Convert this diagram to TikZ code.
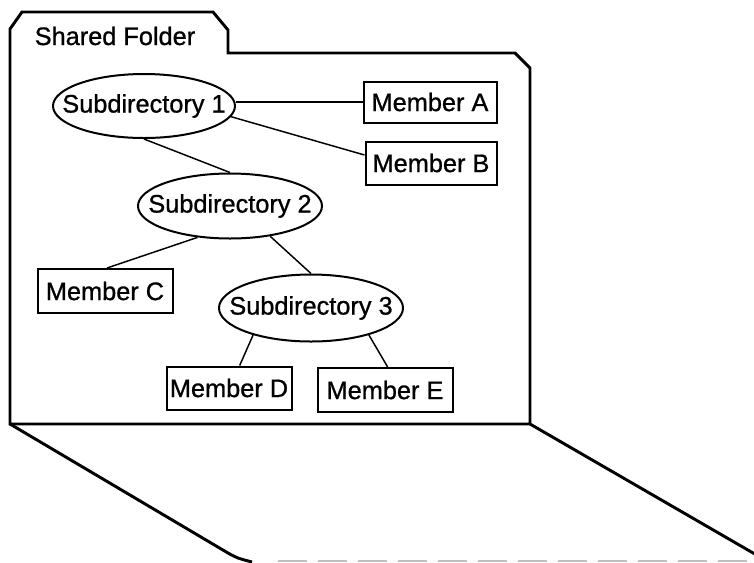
\documentclass[tikz,border=0pt]{standalone}
\usepackage{fontspec}
\setmainfont[FakeBold=0.9]{Liberation Sans}
\usetikzlibrary{shapes.geometric}
\tikzset{
  folder/.style={line width=2.2pt, line join=miter},
  subdir/.style={draw, ellipse, line width=1.5pt, inner sep=0pt},
  member/.style={draw, rectangle, line width=1.5pt, inner sep=0pt},
  link/.style={line width=1.1pt},
  lbl/.style={font=\fontsize{19}{22}\selectfont}
}
\newcommand{\zw}[1]{\makebox[0pt]{#1}}
\begin{document}
\begin{tikzpicture}[x=0.75pt, y=-0.75pt, every node/.append style={lbl}]
\useasboundingbox (0,0) rectangle (754,562);
% folder outline
\draw[folder] (10,424) -- (10,29) -- (22,12) -- (213,12) -- (228,30) -- (228,53)
  -- (515,53) -- (530,68) -- (530,424) -- cycle;
\draw[folder] (10,424) -- (228,553) .. controls (237,558) .. (252,562);
\draw[folder] (530,424) -- (760,557);
\draw[gray!50, line width=0.9pt, dash pattern=on 22pt off 8pt] (278,561) -- (754,561);
\node[anchor=base west] (title) at (30,45) {Shared Folder};
% nodes
\node[subdir, minimum width=136.5pt, minimum height=48pt] (s1) at (144,106) {\zw{Subdirectory 1}};
\node[subdir, minimum width=138pt, minimum height=48.75pt] (s2) at (230,206) {\zw{Subdirectory 2}};
\node[subdir, minimum width=138pt, minimum height=50.25pt] (s3) at (311,308) {\zw{Subdirectory 3}};
\node[member, minimum width=99.75pt, minimum height=30.75pt] (mA) at (430,102) {Member A};
\node[member, minimum width=98.25pt, minimum height=32.25pt] (mB) at (431,163) {Member B};
\node[member, minimum width=101.25pt, minimum height=33pt] (mC) at (105,291) {Member C};
\node[member, minimum width=93.75pt, minimum height=32.25pt] (mD) at (229,388) {Member D};
\node[member, minimum width=101.25pt, minimum height=33pt] (mE) at (385,390) {Member E};
% connectors
\draw[link] (mA.west) -- (mA.west -| s1.east);
\draw[link] (s1.-7) -- ([yshift=6pt]mB.west);
\draw[link] (s1.south) -- (s2.north);
\draw[link] (s2.224) -- ([xshift=1.5pt]mC.north);
\draw[link] (s2.-37) -- (s3.north);
\draw[link] (s3.205) -- ([xshift=8pt]mD.north);
\draw[link] (s3.-25) -- ([xshift=2pt]mE.north);
\end{tikzpicture}
\end{document}
